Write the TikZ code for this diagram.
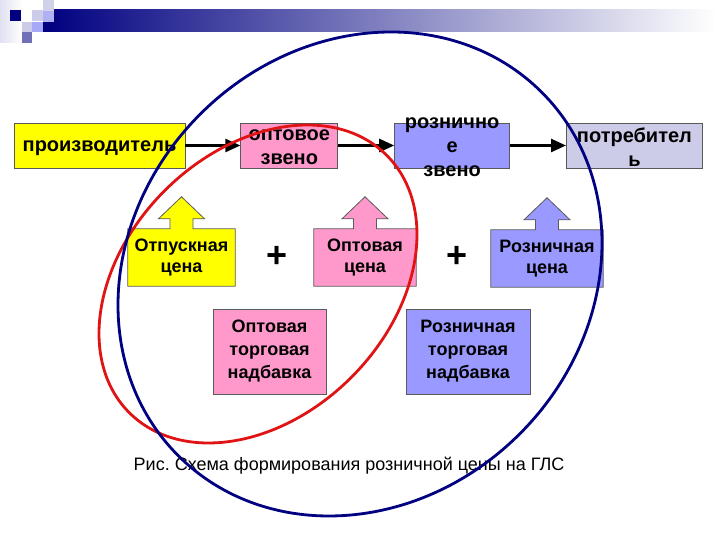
\documentclass[tikz,border=0pt]{standalone}
\usepackage{fontspec}
\setmainfont{Liberation Sans}
\usetikzlibrary{positioning}
\usetikzlibrary{arrows.meta}
\usetikzlibrary{backgrounds}

\definecolor{ylw}{HTML}{FFFF00}
\definecolor{pnk}{HTML}{FF99CC}
\definecolor{blu}{HTML}{9999FF}
\definecolor{lav}{HTML}{CCCCE8}
\definecolor{navyline}{HTML}{000080}
\definecolor{redline}{HTML}{E01414}

\begin{document}
\begin{tikzpicture}[x=1pt,y=1pt,>={Triangle[length=15pt,width=13pt]},
    link/.style={->,line width=2.5pt},
    linkbox/.style={draw=black!65,line width=0.8pt,minimum width=#1,minimum height=45pt,inner sep=0pt},
    linktext/.style={font=\fontsize{20}{24}\selectfont\bfseries,align=center},
    price/.style={minimum width=#1,minimum height=57pt,inner sep=0pt,font=\fontsize{18}{21}\selectfont\bfseries,align=center},
    markup/.style={draw=black!65,line width=0.8pt,minimum width=#1,minimum height=85pt,inner sep=0pt,font=\fontsize{18}{23}\selectfont\bfseries,align=center},
    plus/.style={font=\fontsize{36}{36}\selectfont\bfseries},
    ring/.style={line width=2.8pt}]
        \useasboundingbox (0,0) rectangle (720,540);
        % title bar
        \shade[left color=lav!60,right color=white] (0,497) rectangle (22,540);
        \shade[left color=navyline,right color=white] (43,508) rectangle (716,530);
        \fill[navyline] (10,519) rectangle (21,530);
        \fill[lav] (32,519) rectangle (43,530);
        \fill[lav!90] (43,529) rectangle (54,540);
        \fill[blu!55!lav] (43,518) rectangle (54,529);
        \fill[lav] (22,508) rectangle (32,518);
        \fill[blu!70!lav] (32,508) rectangle (43,518);
        \fill[navyline!45!lav] (22,497) rectangle (32,508);
        % chain
        \node[linkbox=171pt,fill=ylw] (prod) at (99.5,394.5) {};
        \node[linkbox=97pt,fill=pnk] (whole) [right=55pt of prod] {};
        \node[linkbox=115pt,fill=blu] (retail) [right=56pt of whole] {};
        \node[linkbox=136pt,fill=lav] (cons) [right=56pt of retail] {};
        \node[linktext] (prodt) at ([yshift=-3pt]prod) {производитель};
        \node[linktext] (wholet) at ([yshift=-2pt]whole) {оптовое\\звено};
        \node[linktext] (retailt) at ([yshift=-2pt]retail) {рознично\\е\\звено};
        \node[linktext] (const) at ([yshift=-2pt]cons) {потребител\\ь};
        \path   (prod) edge[link] (whole)
                (whole) edge[link] (retail)
                (retail) edge[link] (cons);
        % prices
        \node[price=107pt] (otp) at (181.5,282.5) {Отпускная\\цена};
        \node[price=102pt] (optc) at (365,282.5) {Оптовая\\цена};
        \node[price=112pt] (rozc) at (547,281.5) {Розничная\\цена};
        \begin{scope}[on background layer]
            \foreach \n/\c in {otp/ylw,optc/pnk,rozc/blu}
                \filldraw[fill=\c,draw=black!65,line width=0.8pt] (\n.south west) -- (\n.north west)
                    -- ([shift={(-11.5,0)}]\n.north) -- ([shift={(-11.5,10)}]\n.north)
                    -- ([shift={(-23,10)}]\n.north) -- ([shift={(0,32)}]\n.north)
                    -- ([shift={(23,10)}]\n.north) -- ([shift={(11.5,10)}]\n.north)
                    -- ([shift={(11.5,0)}]\n.north) -- (\n.north east) -- (\n.south east) -- cycle;
        \end{scope}
        \node[plus] (plus1) at (277,283) {+};
        \node[plus] (plus2) at (457,283) {+};
        % markups
        \node[markup=113pt,fill=pnk] (whm) at (269.5,188.5) {Оптовая\\торговая\\надбавка};
        \node[markup=124pt,fill=blu] (rtm) at (468,188.5) {Розничная\\торговая\\надбавка};
        \node[font=\fontsize{18}{20}\selectfont] (capt) at (349,74) {Рис.\ Схема формирования розничной цены на ГЛС};
        % rings
        \draw[ring,draw=redline,rotate around={45:(258,256)}] (258,256) ellipse [x radius=182pt,y radius=132pt];
        \draw[ring,draw=navyline,rotate around={45:(360,266)}] (360,266) ellipse [x radius=257pt,y radius=226pt];
\end{tikzpicture}
\end{document}
